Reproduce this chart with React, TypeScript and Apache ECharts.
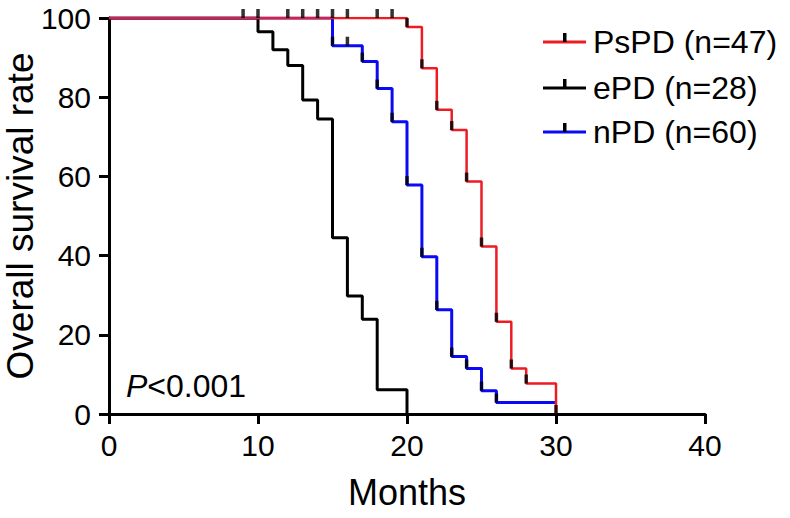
import { useEffect, useRef } from "react";
import * as echarts from "echarts";

const FONT = "'Liberation Sans', Arial, Helvetica, sans-serif";

const seriesNames = ["PsPD (n=47)", "ePD (n=28)", "nPD (n=60)"];
const seriesColors = ["#ec1c24", "#000000", "#0a0af5"];

// Kaplan-Meier steps: [month, survival %]
const psPD: [number, number][] = [
  [0, 100], [20, 97.7], [21, 87.3], [22, 76.8], [23, 71.7], [24, 58.7],
  [25, 42.3], [26, 23.3], [27, 11.5], [28, 7.7], [30, 0],
];
const ePD: [number, number][] = [
  [0, 100], [10, 96.5], [11, 92.0], [12, 88.0], [13, 79.3], [14, 74.5],
  [15, 44.5], [16, 29.8], [17, 23.9], [18, 6.1], [20, 0],
];
const nPD: [number, number][] = [
  [0, 100], [15, 93.0], [17, 89.0], [18, 82.2], [19, 73.8], [20, 57.8],
  [21, 39.7], [22, 26.3], [23, 14.5], [24, 11.5], [25, 5.9], [26, 2.9], [30, 2.9],
];

// censor / tick marks
const psPDCensored: [number, number][] = [
  [9, 100], [10, 100], [12, 100], [13, 100], [14, 100], [15, 100], [16, 100], [18, 100], [19, 100],
];
const nPDCensored: [number, number][] = [[16, 93.0]];

const xMin = 0, xMax = 40, xStep = 10;
const yMin = 0, yMax = 100, yStep = 20;
const pText = "P";
const pRest = "<0.001";

export default function App() {
  const ref = useRef<HTMLDivElement>(null);
  useEffect(() => {
    document.body.style.margin = "0";
    if (!ref.current) return;
    const chart = echarts.init(ref.current, undefined, { renderer: "svg" });

    const tickMarks = [
      ...psPD.slice(1),
      ...nPD.slice(1, nPD.length - 1),
      ...psPDCensored,
      ...nPDCensored,
    ];

    const legendY = [42, 88, 132];
    const legendGraphics: any[] = [];
    seriesNames.forEach((n, i) => {
      legendGraphics.push({
        type: "line",
        shape: { x1: 543, y1: legendY[i], x2: 586, y2: legendY[i] },
        style: { stroke: seriesColors[i], lineWidth: 3 },
      });
      legendGraphics.push({
        type: "rect",
        shape: { x: 563, y: legendY[i] - 9, width: 3.5, height: 9 },
        style: { fill: "#000" },
      });
      legendGraphics.push({
        type: "text",
        x: 593,
        y: legendY[i],
        style: {
          text: n,
          fontSize: 32,
          fontFamily: FONT,
          fill: "#000",
          verticalAlign: "middle",
          align: "left",
        },
      });
    });

    chart.setOption({
      animation: false,
      backgroundColor: "#fff",
      grid: {
        left: 109, right: 85, top: 18, bottom: 104,
        containLabel: false, outerBoundsMode: "none",
      },
      xAxis: {
        type: "value",
        min: xMin,
        max: xMax,
        interval: xStep,
        name: "Months",
        nameLocation: "middle",
        nameGap: 60,
        nameMoveOverlap: false,
        nameTextStyle: { fontSize: 36, fontFamily: FONT, color: "#000" },
        axisLine: { lineStyle: { color: "#000", width: 3 } },
        axisTick: { length: 10, lineStyle: { color: "#000", width: 3 } },
        axisLabel: { fontSize: 30, fontFamily: FONT, color: "#000", margin: 16 },
        splitLine: { show: false },
      },
      yAxis: {
        type: "value",
        min: yMin,
        max: yMax,
        interval: yStep,
        name: "Overall survival rate",
        nameLocation: "middle",
        nameGap: 70,
        nameMoveOverlap: false,
        nameTextStyle: { fontSize: 37, fontFamily: FONT, color: "#000" },
        axisLine: { lineStyle: { color: "#000", width: 3 } },
        axisTick: { length: 10, lineStyle: { color: "#000", width: 3 } },
        axisLabel: { fontSize: 30, fontFamily: FONT, color: "#000", margin: 18 },
        splitLine: { show: false },
      },
      series: [
        {
          name: seriesNames[1],
          type: "line",
          step: "end",
          data: ePD,
          showSymbol: false,
          lineStyle: { color: seriesColors[1], width: 3 },
          z: 2,
        },
        {
          name: seriesNames[2],
          type: "line",
          step: "end",
          data: nPD,
          showSymbol: false,
          lineStyle: { color: seriesColors[2], width: 3 },
          z: 3,
        },
        {
          name: seriesNames[0],
          type: "line",
          step: "end",
          data: psPD,
          showSymbol: false,
          lineStyle: { color: seriesColors[0], width: 2.5 },
          z: 4,
        },
        {
          type: "scatter",
          data: tickMarks,
          symbol: "rect",
          symbolSize: [3.5, 9],
          symbolOffset: [0, -4.5],
          itemStyle: { color: "#000" },
          z: 5,
          silent: true,
        },
      ],
      graphic: [
        ...legendGraphics,
        {
          type: "text",
          x: 126,
          y: 386,
          style: {
            text: `{i|${pText}}${pRest}`,
            fontSize: 32,
            fontFamily: FONT,
            fill: "#000",
            verticalAlign: "middle",
            rich: {
              i: { fontStyle: "italic", fontSize: 32, fontFamily: FONT, fill: "#000" },
            },
          },
        },
      ],
    });
    return () => chart.dispose();
  }, []);
  return <div ref={ref} style={{ width: 790, height: 518 }} />;
}
